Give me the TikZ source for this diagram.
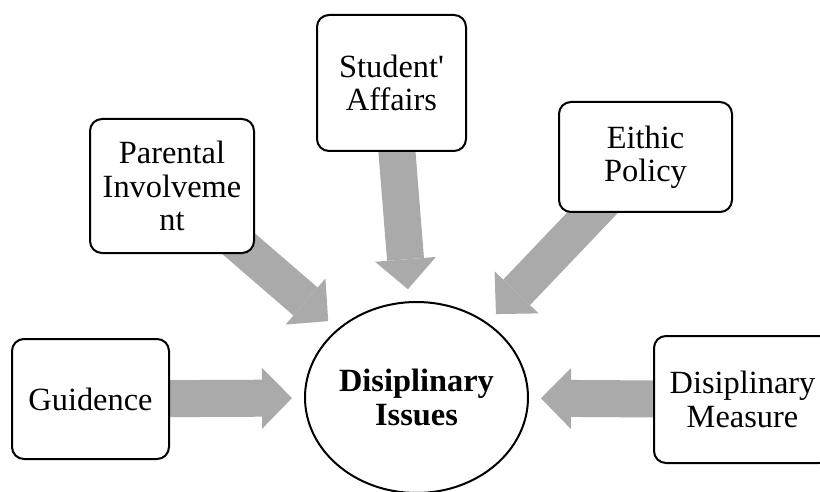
\documentclass[tikz,border=0pt]{standalone}
\usepackage{fontspec}
\setmainfont{Liberation Serif}
\usetikzlibrary{arrows.meta,shapes.geometric,backgrounds}
\definecolor{arrowgray}{RGB}{170,170,170}
% straight apostrophe, bypassing the TeX ligature mapping
\newcommand{\straightquote}{\XeTeXglyph\XeTeXcharglyph"27\relax}
\tikzset{
  box/.style={draw=black, line width=1pt, rounded corners=6pt, fill=white,
    align=center, inner sep=0pt, font=\fontsize{16.2}{16.6}\selectfont},
  hub/.style={ellipse, draw=black, line width=1pt, fill=white, align=center,
    inner sep=0pt, minimum width=111.5pt, minimum height=95.5pt,
    font=\fontsize{16.2}{16.6}\selectfont\bfseries},
  fat/.style={draw=arrowgray, line width=18.5pt,
    -{Triangle[length=15pt,width=30.5pt,line width=0pt]},
    shorten >=6pt, shorten <=-20pt}
}
\begin{document}
\begin{tikzpicture}[x=0.5pt, y=-0.5pt]
  \useasboundingbox (0,0) rectangle (820,492);
  \clip (0,0) rectangle (820,492);

  % central topic
  \node[hub] (issues) at (416.5,397.5) {Disiplinary\\Issues};

  % surrounding factors
  \node[box, minimum width=78.5pt, minimum height=60pt]   (guid)  at (90.5,399)   {Guidence};
  \node[box, minimum width=82pt,   minimum height=67pt]   (par)   at (172,186)    {Parental\\Involveme\\nt};
  \node[box, minimum width=74.5pt, minimum height=68pt]   (stud)  at (391.5,83)   {Student\straightquote\\Affairs};
  \node[box, minimum width=86.5pt, minimum height=55pt]   (eth)   at (645.5,157)  {Eithic\\Policy};
  \node[box, minimum width=88.5pt, minimum height=63.5pt] (meas)  at (742.5,399.5){Disiplinary\\Measure};

  % block arrows pointing at the central topic
  \begin{scope}[on background layer]
    \draw[fat] (guid) -- (issues);
    \draw[fat] (par)  -- (issues);
    \draw[fat] (stud) -- (issues);
    \draw[fat] (eth)  -- (issues);
    \draw[fat] (meas) -- (issues);
  \end{scope}
\end{tikzpicture}
\end{document}
